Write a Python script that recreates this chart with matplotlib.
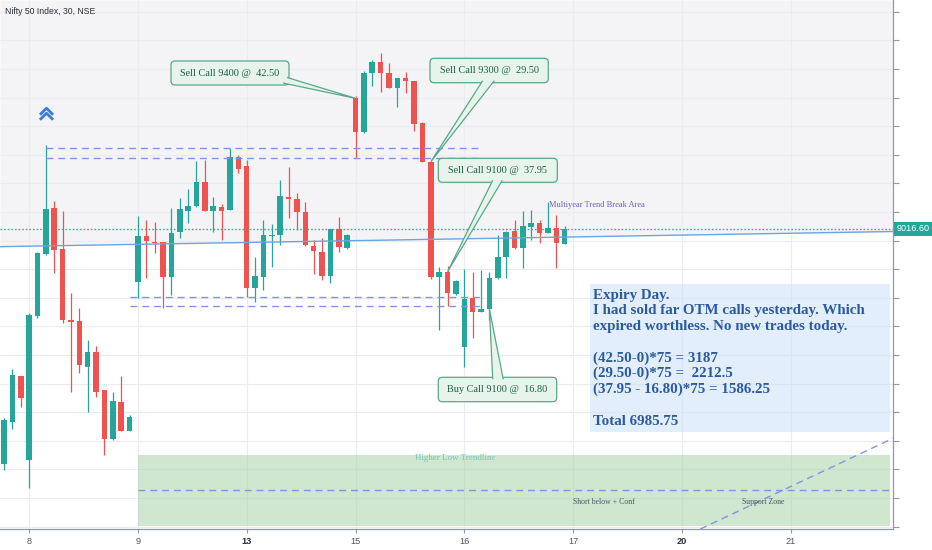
import matplotlib
matplotlib.use("Agg")
import matplotlib.pyplot as plt
from matplotlib.patches import FancyBboxPatch, Polygon, Rectangle
from matplotlib.path import Path
from matplotlib.transforms import IdentityTransform
import numpy as np

# ---------------- data (Nifty 50, 30-min candles) ----------------
opens = [8687.4, 8746.2, 8810.5,
         8693.0, 8894.4, 8981.2, 9045.5, 8988.1, 8888.8, 8887.4, 8823.1, 8844.1, 8790.9, 8722.4, 8774.2, 8733.6,
         8941.6, 9006.7, 8998.6, 8997.5, 8949.4, 9011.5, 9041.7, 9048.3, 9082.3, 9041.7, 9046.9, 9042.7, 9116.4,
         9104.2, 8933.2, 8949.4, 9007.0, 9007.7, 9061.3, 9057.7, 9040.3, 8992.3, 8984.4, 8950.8, 9016.1, 8990.0,
         9198.9, 9151.4, 9233.9, 9249.3, 9233.9, 9213.7, 9227.7, 9223.1, 9164.8, 9110.2, 8949.4, 8956.4, 8925.2,
         8851.1, 8919.2, 8900.4, 8903.8, 8947.2, 8977.4, 9013.7, 8990.0, 9019.3, 9024.9, 9010.9, 9017.9, 8995.1]
highs = [8751.8, 8820.3, 8811.0,
         8898.6, 8983.5, 9133.6, 9055.3, 9041.3, 8926.6, 8905.6, 8860.9, 8852.5, 8791.5, 8788.1, 8810.5, 8756.0,
         9034.3, 9028.7, 9025.9, 8998.0, 9045.1, 9059.9, 9071.6, 9111.2, 9112.6, 9060.5, 9051.1, 9129.0, 9119.6,
         9112.6, 8977.4, 9028.7, 9023.1, 9084.6, 9103.3, 9066.1, 9054.3, 9000.7, 9003.1, 9016.5, 9032.5, 9009.1,
         9202.1, 9237.1, 9252.5, 9261.9, 9247.9, 9227.5, 9236.1, 9223.5, 9165.8, 9110.8, 8963.4, 8964.4, 8944.3,
         8959.8, 8956.4, 8958.8, 8956.4, 9007.7, 9012.8, 9028.7, 9041.7, 9042.7, 9028.7, 9054.3, 9035.7, 9020.3]
lows = [8679.1, 8736.4, 8767.2,
        8653.9, 8891.6, 8980.0, 8954.6, 8884.7, 8788.1, 8814.7, 8760.2, 8781.2, 8700.0, 8721.5, 8733.0, 8733.0,
        8919.2, 8947.2, 8983.0, 8905.2, 8923.8, 9003.1, 9024.9, 9046.5, 9041.0, 9012.3, 9000.7, 9042.0, 9094.9,
        8921.4, 8914.4, 8930.8, 8963.4, 8993.7, 9031.1, 9014.7, 8993.0, 8953.2, 8944.8, 8941.0, 8984.4, 8987.7,
        9115.8, 9151.0, 9216.5, 9207.3, 9212.9, 9187.2, 9206.7, 9153.2, 9110.0, 8945.8, 8874.9, 8908.4, 8923.8,
        8823.5, 8863.3, 8900.0, 8888.8, 8946.8, 8947.2, 8988.6, 8961.2, 9000.7, 8996.1, 9010.5, 8961.2, 8994.6]
closes = [8749.0, 8811.9, 8779.8,
          8895.8, 8982.6, 9044.1, 8986.8, 8888.8, 8886.1, 8825.9, 8844.1, 8788.1, 8722.4, 8775.6, 8733.6, 8753.2,
          9006.7, 8999.3, 8996.5, 8949.4, 9010.1, 9044.1, 9048.7, 9082.3, 9041.3, 9047.9, 9041.7, 9117.2, 9099.6,
          8933.2, 8950.4, 9007.7, 9008.4, 9062.3, 9058.5, 9040.3, 8993.7, 8985.4, 8950.8, 9016.1, 8991.4, 9007.7,
          9151.4, 9234.7, 9249.3, 9233.9, 9213.7, 9226.9, 9223.1, 9162.6, 9110.2, 8948.6, 8955.6, 8926.2, 8943.8,
          8918.2, 8900.4, 8904.2, 8946.9, 8977.4, 9012.3, 8989.1, 9020.3, 9024.9, 9010.1, 9017.9, 8996.1, 9016.6]

date_ticks = [3, 16, 29, 42, 55, 68, 81, 94]
date_labels = ['8', '9', '13', '15', '16', '17', '20', '21']
bold_dates = ['13', '20']
grid_levels = list(range(8600, 9340, 40))
last_price = 9016.60

trend_x = [-0.48, 106.26]
trend_y = [8991.4, 9012.6]
res_levels = [9129.0, 9115.8]
res_span = [5, 57.1]
sup_levels = [8921.0, 8908.4]
sup_span = [15, 57.1]
zone_x = [16, 105.9]
zone_y = [8600.7, 8700.0]
zone_line = 8651.0
diag_x = [83.2, 106.26]
diag_y = [8596.5, 8723.5]
chevron_x = 5
chevron_y = [9181.2, 9173.5]

callouts = [
    # text, box (px: x0, y0, x1, y1), wedge base px, tip candle index
    ("Sell Call 9400 @  42.50", (171, 61, 289, 85), [(287, 77.5), (283, 83)], 42),
    ("Sell Call 9300 @  29.50", (430, 58.3, 548.3, 82.7), [(482.7, 80.7), (494.3, 80.7)], 51),
    ("Sell Call 9100 @  37.95", (438.3, 158.3, 557.3, 182.3), [(492.7, 180.3), (502.3, 180.3)], 53),
    ("Buy Call 9100 @  16.80", (438.3, 377.3, 556.7, 401.7), [(492.7, 379.3), (503.3, 379.3)], 58),
]

note_lines = ["Expiry Day.",
              "I had sold far OTM calls yesterday. Which",
              "expired worthless. No new trades today.",
              "",
              "(42.50-0)*75 = 3187",
              "(29.50-0)*75 =  2212.5",
              "(37.95 - 16.80)*75 = 1586.25",
              "",
              "Total 6985.75"]

# ---------------- figure ----------------
W, H = 932, 550
fig = plt.figure(figsize=(W / 100, H / 100), dpi=100)
fig.patch.set_facecolor('white')
ax = fig.add_axes([0, (H - 529.3) / H, 893.3 / W, 529.3 / H])
ax.set_facecolor('white')
ax.set_xlim(-0.478, 106.26)
ax.set_ylim(8596.1, 9336.4)

UP, DN = '#26a69a', '#ef5350'
DASH = '#8094e4'
SERIF = ['Liberation Serif', 'DejaVu Serif']
SANS = ['Liberation Sans', 'DejaVu Sans']

# background shading above trend line
ax.fill_between(trend_x, trend_y, [ax.get_ylim()[1]] * 2, color='#f4f4f7', lw=0, zorder=0.2)

# grid / axes
ax.set_yticks(grid_levels)
ax.set_yticklabels([])
ax.set_xticks(date_ticks)
ax.set_xticklabels(date_labels)
ax.yaxis.tick_right()
ax.grid(True, color='#eaecf1', lw=0.8)
ax.set_axisbelow(True)
for s in ['left', 'top']:
    ax.spines[s].set_visible(False)
for s in ['right', 'bottom']:
    ax.spines[s].set_color('#9598a1')
    ax.spines[s].set_linewidth(0.9)
ax.tick_params(axis='y', length=4, color='#9598a1', width=0.8)
ax.tick_params(axis='x', length=3, color='#9598a1', width=0.8, pad=2.5, labelsize=6.6, labelcolor='#50535e')
for lbl in ax.get_xticklabels():
    lbl.set_family(SANS)
    if lbl.get_text() in bold_dates:
        lbl.set_fontweight('bold')
        lbl.set_color('#2a2e39')

# candles
o = np.array(opens); h = np.array(highs); l = np.array(lows); c = np.array(closes)
xs = np.arange(len(o))
cols = np.where(c >= o, UP, DN)
ax.vlines(xs, l, h, colors=cols, lw=0.9, zorder=3)
ax.bar(xs, np.maximum(np.abs(c - o), 1.4), bottom=np.minimum(o, c), width=0.66,
       color=cols, lw=0, zorder=4)

# lines
ax.axhline(last_price, color=UP, ls=(0, (1.2, 1.4)), lw=1.0, alpha=0.9, zorder=2)
ax.plot(trend_x, trend_y, color='#6aa6e0', lw=1.0, zorder=5)
ax.hlines(res_levels, res_span[0], res_span[1], colors=DASH, linestyles=(0, (5, 3.5)), lw=1, zorder=5)
ax.hlines(sup_levels, sup_span[0], sup_span[1], colors=DASH, linestyles=(0, (5, 3.5)), lw=1, zorder=5)

# support zone
ax.add_patch(Rectangle((zone_x[0], zone_y[0]), zone_x[1] - zone_x[0], zone_y[1] - zone_y[0],
                       fc='#9fd19f', alpha=0.5, lw=0, zorder=2))
ax.hlines(zone_line, zone_x[0], ax.get_xlim()[1], colors=DASH, linestyles=(0, (5, 3.5)), lw=1, zorder=5)
ax.plot(diag_x, diag_y, color=DASH, ls=(0, (5, 3.5)), lw=1, zorder=5)

# chevron icon
chev = Path([(-1, -0.5), (0, 0.5), (1, -0.5)], [Path.MOVETO, Path.LINETO, Path.LINETO])
for cy in chevron_y:
    ax.plot([chevron_x], [cy], marker=chev, ms=9.5, mfc='none', mec='#3b7dd8', mew=2.0, zorder=6)

ID = IdentityTransform()


def disp(px, py):
    return (px, H - py)


# callouts
for txt, (x0, y0, x1, y1), base, idx in callouts:
    fc, ec = '#e6f4ec', '#5aa889'
    box = FancyBboxPatch(disp(x0, y1), x1 - x0, y1 - y0, boxstyle='round,pad=0,rounding_size=4',
                         transform=ID, fc=fc, ec=ec, lw=0.9, zorder=8)
    ax.add_artist(box)
    tip = ax.transData.transform((idx, opens[idx]))
    pts = [disp(*base[0]), tuple(tip), disp(*base[1])]
    ax.add_artist(Polygon(pts, closed=False, transform=ID, fc=fc, ec=ec, lw=0.9, zorder=9))
    ax.text(*disp((x0 + x1) / 2, (y0 + y1) / 2), txt, transform=ID, ha='center', va='center',
            fontsize=7.4, family=SERIF, color='#1f5d44', zorder=10)

# note box
ax.add_artist(Rectangle(disp(590, 432), 300, 148, transform=ID, fc='#c6dff9', alpha=0.5, lw=0, zorder=6))
line_y = [295, 310.6, 326.2, 341.8, 357.8, 373.4, 389, 405, 421.2]
for t, ly in zip(note_lines, line_y):
    if t:
        ax.text(*disp(593, ly), t, transform=ID, ha='left', va='center', fontsize=10.8,
                family=SERIF, fontweight='bold', color='#2c5aa0', zorder=7)

# small labels
ax.text(*disp(549, 205), 'Multiyear Trend Break Area', transform=ID, ha='left', va='center',
        fontsize=6.0, family=SERIF, color='#6b5fb5', zorder=7)
ax.text(*disp(455, 457.5), 'Higher Low Trendline', transform=ID, ha='center', va='center',
        fontsize=6.4, family=SERIF, color='#7cc4bd', zorder=7)
ax.text(*disp(604, 502), 'Short below + Conf', transform=ID, ha='center', va='center',
        fontsize=5.6, family=SERIF, color='#4a5568', zorder=7)
ax.text(*disp(763, 502), 'Support Zone', transform=ID, ha='center', va='center',
        fontsize=5.6, family=SERIF, color='#4a5568', zorder=7)

# price label
ax.annotate(f'{last_price:.2f}', xy=(1, last_price), xycoords=('axes fraction', 'data'),
            xytext=(2.5, 0), textcoords='offset points', ha='left', va='center', color='white',
            fontsize=6.6, family=SANS,
            bbox=dict(boxstyle='square,pad=0.28', fc=UP, ec='none'), annotation_clip=False, zorder=10)

fig.text(5 / W, 1 - 11 / H, 'Nifty 50 Index, 30, NSE', fontsize=6.2, family=SANS,
         color='#2a2e39', va='center', ha='left')

fig.savefig('out.png', dpi=100, facecolor='white')
